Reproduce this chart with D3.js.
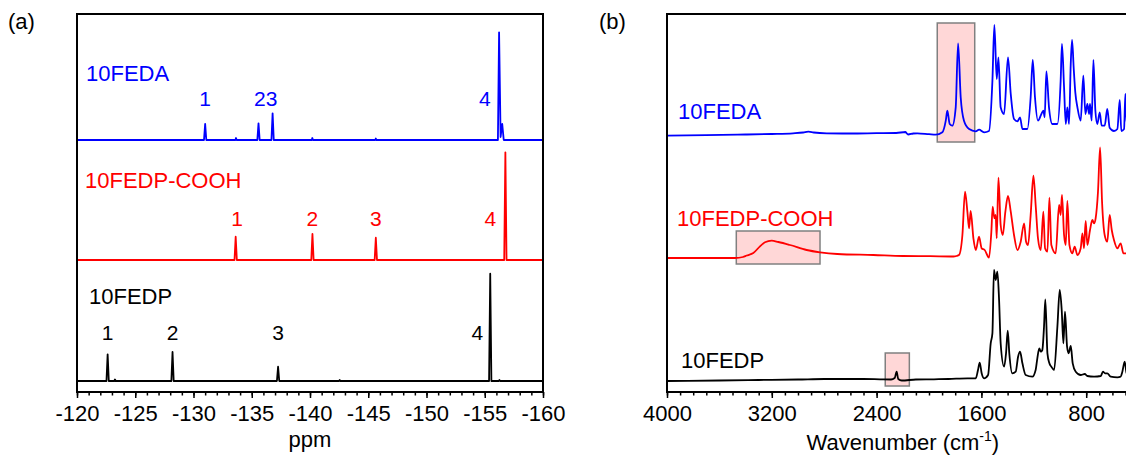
<!DOCTYPE html>
<html>
<head>
<meta charset="utf-8">
<script src="https://cdn.jsdelivr.net/npm/d3@7"></script>
<style>
body{margin:0;background:#fff;}
svg text{font-family:Arial,"Liberation Sans",sans-serif;}
</style>
</head>
<body>
<script>
// ---- data ----
var names = ["10FEDA", "10FEDP-COOH", "10FEDP"];
var colors = ["#0000ff", "#ff0000", "#000000"];

// 19F NMR (ppm, intensity)
var nmrFEDA = [[-120,0],[-130.9,0],[-131.0,16],[-131.1,0],[-133.6,0],[-133.65,2],[-133.7,0],[-135.48,0],[-135.58,16.7],[-135.68,0],
    [-136.69,0],[-136.79,26.7],[-136.89,0],[-140.15,0],[-140.2,2],[-140.25,0],[-145.6,0],[-145.65,1.5],[-145.7,0],
    [-156.13,0],[-156.23,107.7],[-156.36,3],[-156.5,16],[-156.63,0],[-160,0]];
var nmrCOOH = [[-120,0],[-133.52,0],[-133.62,23.3],[-133.72,0],[-140.11,0],[-140.21,26],[-140.31,0],
    [-145.55,0],[-145.65,22.3],[-145.75,0],[-156.67,0],[-156.77,107.7],[-156.87,0],[-160,0]];
var nmrFEDP = [[-120,0],[-122.53,0],[-122.63,26.7],[-122.73,0],[-123.2,0],[-123.26,1.5],[-123.32,0],[-128.1,0],[-128.2,29],[-128.3,0],
    [-137.16,0],[-137.26,14.3],[-137.36,0],[-142.5,0],[-142.55,1],[-142.6,0],[-155.37,0],[-155.47,107.3],[-155.57,0],
    [-156.2,0],[-156.26,1],[-156.32,0],[-160,0]];
var nmrOffsets = [241, 121, 0];
// peak number labels (ppm, text)
var nmrLabelsFEDA = [[-131.0,"1"],[-136.2,"23"],[-155.0,"4"]];
var nmrLabelsCOOH = [[-133.75,"1"],[-140.2,"2"],[-145.65,"3"],[-155.47,"4"]];
var nmrLabelsFEDP = [[-122.63,"1"],[-128.2,"2"],[-137.26,"3"],[-154.36,"4"]];
var nmrLabelLevel = [34, 34, 41];
var nmrTicks = [-120,-125,-130,-135,-140,-145,-150,-155,-160];

// FTIR (wavenumber, absorbance)
var irFEDA = [[4000,0.3],[3700,0.8],[3400,1.5],[3200,2],[3038,2.7],[2960,3.5],[2921,4.3],[2880,3.5],[2781,2.7],[2600,2.5],[2400,2.8],
    [2250,3],[2180,4],[2170,2.7],[2160,1.5],[2120,2.5],[2089,2.7],[2000,1.8],[1949,1.3],[1898,3.7],[1872,15.3],[1860,25.3],
    [1842,12],[1822,10.3],[1796,28.7],[1778,92.7],[1758,38.7],[1733,15.3],[1694,7],[1643,4.7],[1618,6.3],[1580,3.7],[1542,5],
    [1516,55],[1501,111],[1483,57],[1470,78.7],[1453,28.7],[1427,22],[1397,78.7],[1376,42],[1351,17],[1325,14.7],[1305,18.7],
    [1287,7],[1249,7],[1224,38.7],[1208,76],[1191,38.7],[1168,15.3],[1142,22],[1127,25.3],[1117,18.7],[1104,64.7],[1084,28.7],
    [1058,12],[1020,12],[995,55.3],[985,92],[969,48.7],[956,12],[944,28.7],[931,12],[918,72],[908,96],[895,66.7],[883,43.3],
    [867,28.7],[842,15.3],[822,60.3],[806,22],[791,32],[778,22],[771,32],[758,15.3],[745,76],[730,25.3],[715,12],[697,23.7],
    [682,10.3],[659,10.3],[639,27],[621,8.3],[588,5],[562,7],[544,36],[532,5],[511,7],[501,42],[491,15],[470,10]];
var irCOOH = [[4000,0],[3600,0],[3480,0],[3420,1],[3392,2.5],[3341,5],[3290,11.7],[3252,15.7],[3201,17.3],[3150,16],[3061,13],
    [2934,8],[2832,5.7],[2700,4],[2425,3],[2200,2],[1990,1.8],[1814,1.5],[1790,2],[1771,3],[1745,23],[1725,66.3],[1707,46.3],
    [1694,29.7],[1682,47],[1661,19.7],[1643,8],[1618,21.3],[1598,9.7],[1575,8],[1542,0.3],[1524,26.3],[1514,51.3],[1501,39.7],
    [1491,43],[1483,19.7],[1470,80.3],[1453,33],[1437,23],[1417,46.3],[1397,62],[1376,46.3],[1351,23],[1325,8],[1300,16.3],
    [1274,34.7],[1259,16.3],[1244,13],[1224,43],[1203,82.3],[1185,51.3],[1168,19.7],[1147,8],[1127,46.3],[1114,9.7],[1096,6.3],
    [1081,60.3],[1066,13],[1033,4.7],[1007,53],[995,43],[985,63],[969,23],[956,13],[944,57],[928,13],[906,4.7],[888,11.3],
    [867,3],[842,9.7],[829,24.7],[817,9.7],[804,37],[791,13],[771,28],[753,38],[740,34.7],[728,39.7],[710,66.3],[694,110.7],
    [679,56.3],[659,23],[639,16.3],[621,43],[605,28],[588,18],[562,9.7],[537,14.7],[516,4.7],[491,4.7],[470,5]];
var irFEDP = [[4000,0],[3600,0.5],[3300,1],[3000,1.5],[2800,2],[2500,2],[2374,1.7],[2290,1.5],[2262,3],[2247,9.3],[2235,2],
    [2208,0.5],[2100,1.5],[1962,1.7],[1850,2],[1707,2.7],[1643,2.7],[1626,11],[1613,18.3],[1598,7.7],[1580,2.7],[1549,6],
    [1529,37.7],[1516,47.7],[1504,111],[1491,101],[1478,109.3],[1465,81],[1453,37.7],[1427,14.3],[1412,27.7],[1399,50.3],
    [1387,27.7],[1364,7.7],[1338,9.3],[1320,24.3],[1305,29.3],[1287,17.7],[1262,6],[1211,4.3],[1186,11],[1173,22.7],[1158,32.7],
    [1147,29.3],[1135,31],[1122,54.3],[1112,81.7],[1096,27.7],[1081,17.7],[1066,14.3],[1045,11],[1020,54.3],[1002,91],[987,71],
    [974,37.7],[962,69.3],[946,34.3],[934,27.7],[918,35],[903,17.7],[880,9.3],[842,6],[811,7],[791,5],[740,4.3],[689,5],
    [672,9.3],[656,7.7],[639,7.7],[613,4.3],[562,3.7],[537,4.3],[524,9.3],[506,19.3],[491,7.7],[470,6]];
var irOffsets = [245, 123, 0];
// highlighted regions [wn from, wn to, level low, level high]
var irBoxes = [[1937,1651,239,358],[3471,2832,117,150],[2334,2150,-5,28]];
var irTicks = [4000,3200,2400,1600,800];

// ---- layout ----
var w = 1126, h = 457;
var svg = d3.select("body").append("svg")
    .attr("width", w)
    .attr("height", h);

var yScale = d3.scaleLinear().domain([-11, 367]).range([392, 14]);
var xNmr = d3.scaleLinear().domain([-120, -160]).range([77, 543]);
var xIr = d3.scaleLinear().domain([4000, 400]).range([667, 1138.6]);

function drawAxis(x, major, minor){
    var gMinor = svg.append("g")
        .attr("transform", "translate(0,392)")
        .call(d3.axisBottom(x).tickValues(minor).tickSize(3.5).tickFormat(""));
    gMinor.select(".domain").remove();
    gMinor.selectAll("line").attr("stroke-width", 1.5);
    var gMajor = svg.append("g")
        .attr("transform", "translate(0,392)")
        .call(d3.axisBottom(x).tickValues(major).tickSize(6).tickPadding(7).tickFormat(function(d){ return String(d); }));
    gMajor.select(".domain").remove();
    gMajor.selectAll("line").attr("stroke-width", 1.5);
    gMajor.selectAll("text")
        .attr("font-size", 22)
        .attr("font-family", "Arial, 'Liberation Sans', sans-serif")
        .attr("fill", "#000");
}

// ---- panel (a): NMR ----
var nmrData = [nmrFEDA, nmrCOOH, nmrFEDP];
var nmrLabels = [nmrLabelsFEDA, nmrLabelsCOOH, nmrLabelsFEDP];

nmrData.forEach(function(series, i){
    var line = d3.line()
        .x(function(d){ return xNmr(d[0]); })
        .y(function(d){ return yScale(d[1] + nmrOffsets[i]); });
    svg.append("path")
        .datum(series)
        .attr("d", line)
        .attr("fill", "none")
        .attr("stroke", colors[i])
        .attr("stroke-width", 1.8)
        .attr("stroke-linejoin", "round");

    svg.selectAll(".num" + i)
        .data(nmrLabels[i])
        .enter()
        .append("text")
        .attr("class", "num" + i)
        .attr("x", function(d){ return xNmr(d[0]); })
        .attr("y", yScale(nmrOffsets[i] + nmrLabelLevel[i]))
        .attr("text-anchor", "middle")
        .attr("font-size", 21)
        .attr("fill", colors[i])
        .text(function(d){ return d[1]; });
});

var nmrNameY = [81, 188, 304];
var nmrNameX = [86, 85, 89];
names.forEach(function(n, i){
    svg.append("text")
        .attr("x", nmrNameX[i])
        .attr("y", nmrNameY[i])
        .attr("font-size", 22)
        .attr("fill", colors[i])
        .text(n);
});

svg.append("rect")
    .attr("x", 77).attr("y", 14)
    .attr("width", 466).attr("height", 378)
    .attr("fill", "none")
    .attr("stroke", "#000")
    .attr("stroke-width", 2);

drawAxis(xNmr, nmrTicks, d3.range(-120, -160.5, -1));

svg.append("text")
    .attr("x", 310).attr("y", 447)
    .attr("text-anchor", "middle")
    .attr("font-size", 22)
    .text("ppm");

svg.append("text")
    .attr("x", 8).attr("y", 29)
    .attr("font-size", 22)
    .text("(a)");

// ---- panel (b): FTIR ----
svg.selectAll(".box")
    .data(irBoxes)
    .enter()
    .append("rect")
    .attr("class", "box")
    .attr("x", function(d){ return xIr(d[0]); })
    .attr("y", function(d){ return yScale(d[3]); })
    .attr("width", function(d){ return xIr(d[1]) - xIr(d[0]); })
    .attr("height", function(d){ return yScale(d[2]) - yScale(d[3]); })
    .attr("fill", "#ffd7d7")
    .attr("stroke", "#808080")
    .attr("stroke-width", 1.5);

var irData = [irFEDA, irCOOH, irFEDP];
irData.forEach(function(series, i){
    var line = d3.line()
        .curve(d3.curveMonotoneX)
        .x(function(d){ return xIr(d[0]); })
        .y(function(d){ return yScale(d[1] + irOffsets[i]); });
    svg.append("path")
        .datum(series)
        .attr("d", line)
        .attr("fill", "none")
        .attr("stroke", colors[i])
        .attr("stroke-width", 1.8)
        .attr("stroke-linejoin", "round");
});

var irNameY = [119, 226, 368];
var irNameX = [678, 677, 681];
names.forEach(function(n, i){
    svg.append("text")
        .attr("x", irNameX[i])
        .attr("y", irNameY[i])
        .attr("font-size", 22)
        .attr("fill", colors[i])
        .text(n);
});

svg.append("rect")
    .attr("x", 667).attr("y", 14)
    .attr("width", 1138.6 - 667).attr("height", 378)
    .attr("fill", "none")
    .attr("stroke", "#000")
    .attr("stroke-width", 2);

drawAxis(xIr, irTicks, d3.range(4000, 399, -100));

var xt = svg.append("text")
    .attr("x", 902.8).attr("y", 450)
    .attr("text-anchor", "middle")
    .attr("font-size", 22);
xt.append("tspan").text("Wavenumber (cm");
xt.append("tspan").attr("dy", -9).attr("font-size", 14).text("-1");
xt.append("tspan").attr("dy", 9).text(")");

svg.append("text")
    .attr("x", 599).attr("y", 29)
    .attr("font-size", 22)
    .text("(b)");
</script>
</body>
</html>
